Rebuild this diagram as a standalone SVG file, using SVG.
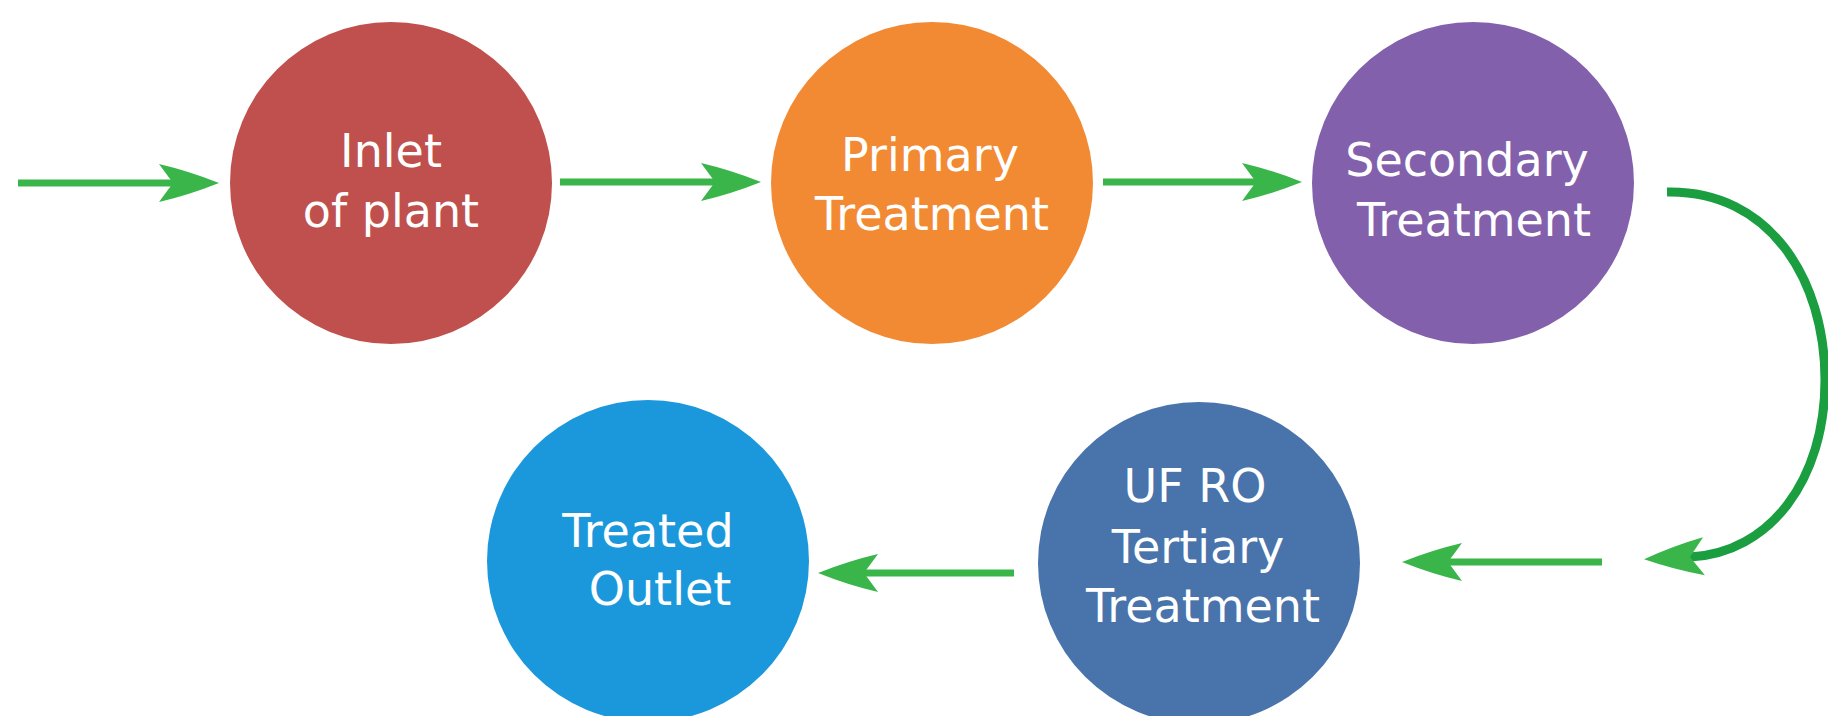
<svg xmlns="http://www.w3.org/2000/svg" width="1828" height="716" viewBox="0 0 1828 716">
<style>
.lbl{font-family:"DejaVu Sans","Liberation Sans",sans-serif;font-size:46px;fill:#ffffff;text-anchor:middle}
.ln{fill:none;stroke:#3ab54a;stroke-width:7}
.curve{fill:none;stroke:#1a9e3f;stroke-width:9}
</style>
<defs>
<marker id="ah" viewBox="-62 -21 64 42" markerWidth="64" markerHeight="42" refX="-46" refY="0" orient="auto" markerUnits="userSpaceOnUse">
<path d="M0,0 Q-30,-12 -60,-19 L-46,0 L-60,19 Q-30,12 0,0 Z" fill="#3ab54a"/>
</marker>
</defs>
<rect width="1828" height="716" fill="#ffffff"/>
<g id="connectors">
<path class="ln" d="M18,183 H173" marker-end="url(#ah)"/>
<path class="ln" d="M560,182 H715" marker-end="url(#ah)"/>
<path class="ln" d="M1103,182 H1256" marker-end="url(#ah)"/>
<path class="curve" d="M1667,192 C1770,190 1825,280 1825,380 C1825,480 1770,553 1690,557" marker-end="url(#ah)"/>
<path class="ln" d="M1602,562 H1448" marker-end="url(#ah)"/>
<path class="ln" d="M1014,573 H864" marker-end="url(#ah)"/>
</g>
<g id="inlet">
<circle cx="391" cy="183" r="161" fill="#c0504d"/>
<text class="lbl" x="391" y="167">Inlet</text>
<text class="lbl" x="391" y="227">of plant</text>
</g>
<g id="primary">
<circle cx="932" cy="183" r="161" fill="#f28a33"/>
<text class="lbl" x="930" y="171">Primary</text>
<text class="lbl" x="932" y="230">Treatment</text>
</g>
<g id="secondary">
<circle cx="1473" cy="183" r="161" fill="#8360ab"/>
<text class="lbl" x="1467" y="176">Secondary</text>
<text class="lbl" x="1474" y="236">Treatment</text>
</g>
<g id="tertiary">
<circle cx="1199" cy="563" r="161" fill="#4873ab"/>
<text class="lbl" x="1195" y="502">UF RO</text>
<text class="lbl" x="1198" y="563">Tertiary</text>
<text class="lbl" x="1203" y="622">Treatment</text>
</g>
<g id="outlet">
<circle cx="648" cy="561" r="161" fill="#1b98dc"/>
<text class="lbl" x="648" y="547">Treated</text>
<text class="lbl" x="660" y="605">Outlet</text>
</g>
</svg>
